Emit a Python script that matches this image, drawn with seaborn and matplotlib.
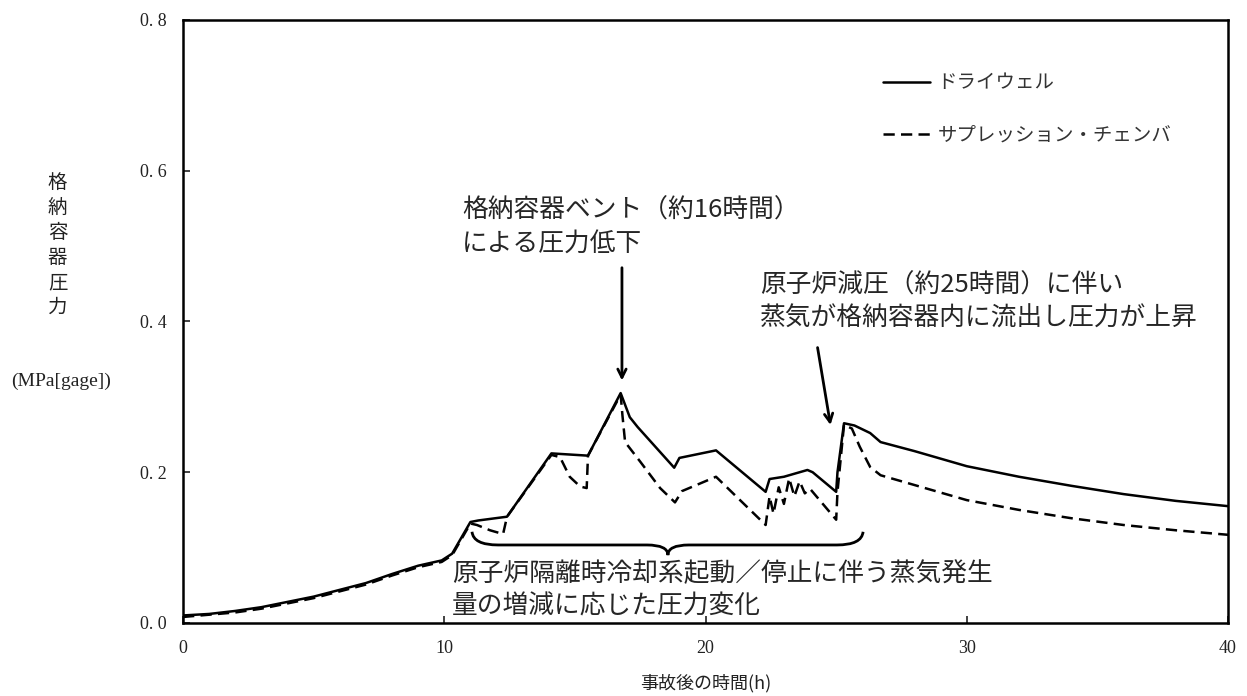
import numpy as np
import pandas as pd
import seaborn as sns
import matplotlib.pyplot as plt
from matplotlib.path import Path
from matplotlib.patches import PathPatch

# --- datos ---
t_dw = [0, 1, 2, 3, 4, 5, 6, 7, 8, 9, 9.9, 10.3, 11.0, 11.3, 12.4, 14.1, 15.5,
        16.75, 17.1, 17.4, 18.8, 19.0, 20.4, 22.3, 22.45, 23.0, 23.9, 24.1, 25.0,
        25.05, 25.3, 25.7, 26.3, 26.7, 28, 30, 32, 34, 36, 38, 40]
p_dw = [0.010, 0.012, 0.016, 0.021, 0.028, 0.035, 0.044, 0.053, 0.065, 0.076, 0.083,
        0.092, 0.134, 0.136, 0.141, 0.225, 0.222, 0.305, 0.273, 0.260, 0.206, 0.219,
        0.229, 0.174, 0.191, 0.194, 0.203, 0.200, 0.174, 0.200, 0.265, 0.262, 0.252,
        0.240, 0.228, 0.208, 0.194, 0.182, 0.171, 0.162, 0.155]

t_sc = [0, 1, 2, 3, 4, 5, 6, 7, 8, 9, 9.9, 10.3, 11.0, 11.25, 11.75, 12.25, 12.4,
        14.1, 14.43, 14.8, 15.2, 15.45, 15.5, 16.75, 16.82, 16.92, 17.5, 18.26, 18.83,
        19.1, 20.4, 22.3, 22.45, 22.6, 22.8, 23.0, 23.2, 23.4, 23.6, 23.8, 24.0, 25.0,
        25.05, 25.3, 25.6, 25.9, 26.3, 26.7, 28, 30, 32, 34, 36, 38, 40]
p_sc = [0.008, 0.011, 0.014, 0.019, 0.026, 0.033, 0.042, 0.051, 0.063, 0.074, 0.081,
        0.090, 0.132, 0.130, 0.123, 0.118, 0.141, 0.223, 0.220, 0.194, 0.181, 0.179,
        0.222, 0.303, 0.275, 0.240, 0.214, 0.179, 0.160, 0.175, 0.194, 0.130, 0.168,
        0.145, 0.180, 0.158, 0.192, 0.168, 0.188, 0.172, 0.178, 0.137, 0.174, 0.263,
        0.258, 0.234, 0.207, 0.196, 0.183, 0.163, 0.150, 0.139, 0.130, 0.123, 0.117]

x_ticks = [0, 10, 20, 30, 40]
y_ticks = [0.0, 0.2, 0.4, 0.6, 0.8]
y_tick_labels = ['0. 0', '0. 2', '0. 4', '0. 6', '0. 8']

df_dw = pd.DataFrame({'t': t_dw, 'p': p_dw})
df_sc = pd.DataFrame({'t': t_sc, 'p': p_sc})

sns.set_style('ticks')
plt.rcParams['font.family'] = ['Noto Sans CJK JP', 'DejaVu Sans']

fig = plt.figure(figsize=(12.47, 6.96), dpi=100)
ax = fig.add_axes([0.1468, 0.1049, 0.838, 0.8664])

sns.lineplot(data=df_dw, x='t', y='p', ax=ax, color='black', lw=1.8,
             sort=False, estimator=None, label='ドライウェル')
sns.lineplot(data=df_sc, x='t', y='p', ax=ax, color='black', lw=1.8,
             sort=False, estimator=None, label='サプレッション・チェンバ',
             dashes=False)
ax.lines[1].set_dashes([4.5, 2.5])

ax.set_xlim(0, 40)
ax.set_ylim(0, 0.8)
ax.set_xticks(x_ticks)
ax.set_yticks(y_ticks)
ax.set_xticklabels([str(v) for v in x_ticks], family='Liberation Serif', fontsize=13)
ax.set_yticklabels(y_tick_labels, family='Liberation Serif', fontsize=13)
ax.tick_params(direction='in', length=5, width=1.2, pad=12, colors='#222')
for s in ax.spines.values():
    s.set_linewidth(1.8)
    s.set_color('black')

# ejes
ax.set_xlabel('事故後の時間(h)', fontsize=13, color='#222')
ax.xaxis.set_label_coords(0.5, -0.085)
ax.set_ylabel('格\n納\n容\n器\n圧\n力', fontsize=14, rotation=0, color='#222',
              linespacing=1.25, va='center', ha='center')
ax.yaxis.set_label_coords(-0.12, 0.627)
ax.text(-0.117, 0.40, '(MPa[gage])', transform=ax.transAxes, fontsize=14,
        family='Liberation Serif', ha='center', va='center', color='#222')

# leyenda
leg = ax.legend(loc='upper left', bbox_to_anchor=(0.67, 0.913), frameon=False,
                fontsize=14, handlelength=2.4, handletextpad=0.4, labelspacing=1.6,
                borderaxespad=0, borderpad=0)
for txt in leg.get_texts():
    txt.set_color('#333')

# anotaciones
arrow_style = '->,head_length=0.6,head_width=0.3'
ax.text(10.68, 0.525, '格納容器ベント（約16時間）\nによる圧力低下', fontsize=18.5,
        ha='left', va='center', linespacing=1.4)
ax.annotate('', xy=(16.8, 0.318), xytext=(16.8, 0.475),
            arrowprops=dict(arrowstyle=arrow_style, lw=2, color='black'))

ax.text(22.09, 0.426, '原子炉減圧（約25時間）に伴い\n蒸気が格納容器内に流出し圧力が上昇',
        fontsize=18.5, ha='left', va='center', linespacing=1.35)
ax.annotate('', xy=(24.8, 0.259), xytext=(24.27, 0.369),
            arrowprops=dict(arrowstyle=arrow_style, lw=2, color='black'))

ax.text(10.3, 0.043, '原子炉隔離時冷却系起動／停止に伴う蒸気発生\n量の増減に応じた圧力変化',
        fontsize=18.5, ha='left', va='center', linespacing=1.3)

# llave
xl, xm, xr = 11.06, 18.56, 26.03
y_end, y_mid, y_tip = 0.121, 0.1035, 0.090
verts = [(xl, y_end), (xl + 0.05, y_mid), (xl + 1.0, y_mid), (xm - 0.8, y_mid),
         (xm, y_mid), (xm, y_tip),
         (xm, y_mid), (xm + 0.8, y_mid), (xr - 1.0, y_mid),
         (xr - 0.05, y_mid), (xr, y_end)]
codes = [Path.MOVETO, Path.CURVE3, Path.CURVE3, Path.LINETO,
         Path.CURVE3, Path.CURVE3,
         Path.CURVE3, Path.CURVE3, Path.LINETO,
         Path.CURVE3, Path.CURVE3]
ax.add_patch(PathPatch(Path(verts, codes), fill=False, lw=2, color='black'))

fig.savefig('out.png', dpi=100)
